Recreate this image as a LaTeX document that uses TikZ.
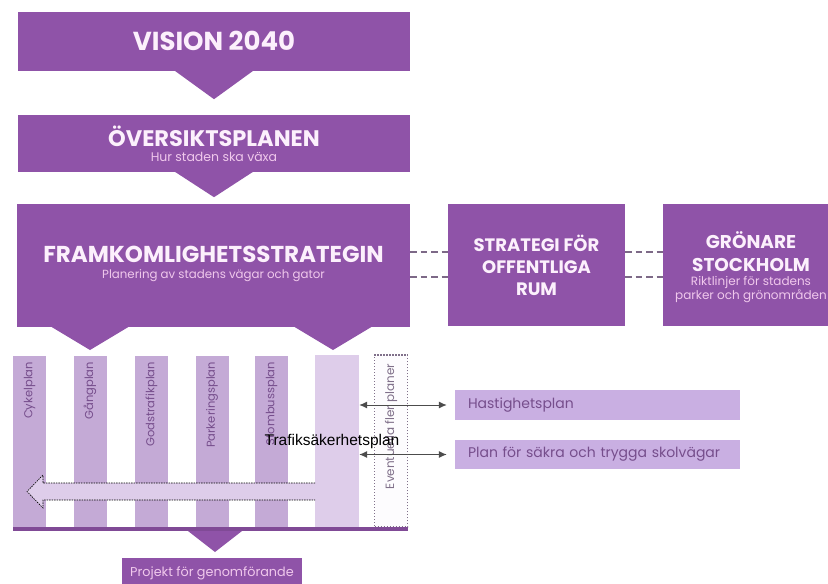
\documentclass[tikz,border=0pt]{standalone}
\usepackage{fontspec}
\setmainfont{Poppins}
\newfontfamily\arialfont{Liberation Sans}
\usetikzlibrary{calc,arrows.meta}
\definecolor{mainp}{RGB}{143,83,168}
\definecolor{colp}{RGB}{196,170,214}
\definecolor{lightp}{RGB}{222,205,234}
\definecolor{boxp}{RGB}{201,175,226}
\definecolor{coltext}{RGB}{118,78,140}
\definecolor{subtxt}{RGB}{240,200,236}
\definecolor{titletxt}{RGB}{252,240,252}
\definecolor{barp}{RGB}{128,74,150}
\definecolor{dashg}{RGB}{125,105,135}
\definecolor{dotg}{RGB}{128,112,138}
\begin{document}
\begin{tikzpicture}[x=1pt,y=-1pt,
  bigbox/.style={fill=mainp, inner sep=0pt},
  ttl/.style={anchor=base, inner sep=0pt, text=titletxt, font=\bfseries\fontsize{#1}{#1}\selectfont},
  sub/.style={anchor=base, inner sep=0pt, text=subtxt, font=\fontsize{#1}{#1}\selectfont},
  stack/.style={anchor=base, inner sep=0pt, text=titletxt},
  col/.style={fill=colp, inner sep=0pt, minimum width=33pt, minimum height=171pt},
  collabel/.style={rotate=90, anchor=east, text=coltext, inner sep=0pt, font=\fontsize{11.5}{13}\selectfont},
  sidebox/.style={fill=boxp, inner ysep=0pt, inner xsep=13pt, text width=259pt, align=left, text=coltext, font=\fontsize{14}{16}\selectfont},
  linkline/.style={draw=dashg, line width=2.6pt, dash pattern=on 6.5pt off 4pt},
  dblarrow/.style={draw=black!70, line width=1pt, {Latex[length=8pt,width=7pt]}-{Latex[length=8pt,width=7pt]}},
  bigdots/.style={draw=black, line width=0.6pt, dash pattern=on 1.5pt off 1pt},
  ]
\useasboundingbox (0,0) rectangle (828,584);

% top boxes
\node[bigbox, minimum width=392pt, minimum height=59pt] (vision) at (214,41.5) {};
\node[ttl=26] (visiont) at ($(vision.center)+(0,8.5)$) {VISION 2040};
\fill[mainp] ($(vision.south)+(-40,-1)$) -- ($(vision.south)+(40,-1)$) -- ($(vision.south)+(0,28)$) -- cycle;

\node[bigbox, minimum width=392pt, minimum height=57pt] (oversikt) at (214,143.5) {};
\node[stack] (oversiktt) at ($(oversikt.center)+(0,3)$)
  {\parbox[t]{380pt}{\centering\bfseries\fontsize{22.5}{24}\selectfont ÖVERSIKTSPLANEN\par
   \mdseries\fontsize{12.5}{15}\selectfont\color{subtxt}Hur staden ska växa}};
\fill[mainp] ($(oversikt.south)+(-40,-1)$) -- ($(oversikt.south)+(40,-1)$) -- ($(oversikt.south)+(0,25)$) -- cycle;

\node[bigbox, minimum width=393pt, minimum height=123pt] (fram) at (213.5,265.5) {};
\node[stack] (framt) at ($(fram.center)+(0,-3)$)
  {\parbox[t]{380pt}{\centering\bfseries\fontsize{23}{24}\selectfont FRAMKOMLIGHETSSTRATEGIN\par
   \mdseries\fontsize{11.8}{16}\selectfont\color{subtxt}Planering av stadens vägar och gator}};
\fill[mainp] (50,326) -- (130,326) -- (90,350) -- cycle;
\fill[mainp] (293,326) -- (373,326) -- (333,350) -- cycle;

\node[bigbox, minimum width=177pt, minimum height=122pt] (strat) at (536.5,265) {};
\node[stack] (stratt) at ($(strat.center)+(0,-13.5)$)
  {\parbox[t]{170pt}{\centering\bfseries\fontsize{18}{22}\selectfont STRATEGI FÖR\\OFFENTLIGA\\RUM}};

\node[bigbox, minimum width=190pt, minimum height=122pt] (gron) at (758,265) {};
\node[stack] (gront) at (751,248.5)
  {\parbox[t]{200pt}{\centering\bfseries\fontsize{18.5}{23}\selectfont GRÖNARE\\STOCKHOLM\par
   \mdseries\fontsize{12}{14}\selectfont\color{subtxt}Riktlinjer för stadens\\parker och grönområden}};

\draw[linkline] ($(fram.east)+(0,-13.5)$) -- ($(strat.west)+(0,-13)$);
\draw[linkline] ($(fram.east)+(0,11.5)$) -- ($(strat.west)+(0,12)$);
\draw[linkline] ($(strat.east)+(0,-13)$) -- ($(gron.west)+(0,-13)$);
\draw[linkline] ($(strat.east)+(0,12)$) -- ($(gron.west)+(0,12)$);

% columns
\node[col] (c1) at (29.5,441.5) {};
\node[col] (c2) at (90,441.5) {};
\node[col] (c3) at (151.5,441.5) {};
\node[col] (c4) at (212,441.5) {};
\node[col] (c5) at (271.5,441.5) {};
\node[fill=lightp, inner sep=0pt, minimum width=44pt, minimum height=172pt] (c6) at (337,441) {};
\node[fill=white!94!lightp, draw=dotg, line width=1.2pt, dash pattern=on 1.4pt off 1.6pt,
      inner sep=0pt, minimum width=33pt, minimum height=172pt] (c7) at (391,441) {};

\node[collabel] (l1) at ($(c1.north)+(0,6)$) {Cykelplan};
\node[collabel] (l2) at ($(c2.north)+(0,6)$) {Gångplan};
\node[collabel] (l3) at ($(c3.north)+(0,6)$) {Godstrafikplan};
\node[collabel] (l4) at ($(c4.north)+(0,6)$) {Parkeringsplan};
\node[collabel] (l5) at ($(c5.north)+(0,6)$) {Stombussplan};
\node[collabel, text=dotg, font=\fontsize{12}{13}\selectfont] (l7) at ($(c7.north)+(0,9)$) {Eventuella fler planer};

% bottom bar and project
\node[fill=barp, inner sep=0pt, minimum width=395pt, minimum height=4pt] (bar) at (210.5,529) {};
\fill[mainp] (188,531) -- (242,531) -- (215,552) -- cycle;
\node[bigbox, minimum width=180pt, minimum height=26pt] (proj) at (212,571) {};
\node[sub=12.8] (projt) at ($(proj.center)+(0,5.5)$) {Projekt för genomförande};

% big dotted arrow
\fill[lightp] (316,483) -- (43,483) -- (43,475) -- (27,491.5) -- (43,508) -- (43,500) -- (316,500) -- cycle;
\draw[bigdots] (315,483) -- (43,483) -- (43,475) -- (27,491.5) -- (43,508) -- (43,500) -- (315,500);

\node[inner sep=0pt, font=\arialfont\fontsize{15.5}{18}\selectfont, text=black] (tsp) at (332,441) {Trafiksäkerhetsplan};

% side plans
\node[sidebox, minimum height=30pt] (hast) at (597.5,405) {Hastighetsplan};
\node[sidebox, minimum height=29pt] (skol) at (597.5,454.5) {Plan för säkra och trygga skolvägar};
\draw[dblarrow] (c6.east |- hast.west) -- ([xshift=-8pt]hast.west);
\draw[dblarrow] (c6.east |- skol.west) -- ([xshift=-8pt]skol.west);
\end{tikzpicture}
\end{document}
